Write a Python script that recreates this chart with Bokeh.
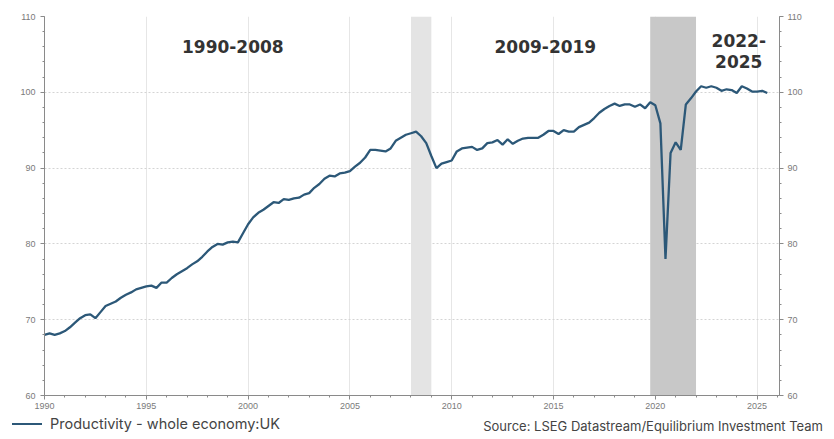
from bokeh.plotting import figure
from bokeh.layouts import column
from bokeh.models import (Range1d, LinearAxis, SingleIntervalTicker, BoxAnnotation,
                          Label, Div)
from bokeh.embed import file_html
from bokeh.resources import INLINE

# ---------------- data ----------------
start_year = 1990
# UK whole-economy productivity, quarterly from 1990 Q1
productivity = [
    68.0, 68.2, 68.0, 68.2,    # 1990
    68.5, 69.0, 69.6, 70.2,    # 1991
    70.6, 70.7, 70.2, 71.0,    # 1992
    71.8, 72.1, 72.4, 72.9,    # 1993
    73.3, 73.6, 74.0, 74.2,    # 1994
    74.4, 74.5, 74.2, 74.9,    # 1995
    74.9, 75.5, 76.0, 76.4,    # 1996
    76.8, 77.3, 77.7, 78.3,    # 1997
    79.0, 79.6, 80.0, 79.9,    # 1998
    80.2, 80.3, 80.2, 81.4,    # 1999
    82.6, 83.5, 84.1, 84.5,    # 2000
    85.0, 85.5, 85.4, 85.9,    # 2001
    85.8, 86.0, 86.1, 86.5,    # 2002
    86.7, 87.4, 87.9, 88.6,    # 2003
    89.0, 88.9, 89.3, 89.4,    # 2004
    89.6, 90.2, 90.7, 91.4,    # 2005
    92.4, 92.4, 92.3, 92.2,    # 2006
    92.6, 93.6, 94.0, 94.4,    # 2007
    94.6, 94.8, 94.2, 93.3,    # 2008
    91.6, 90.0, 90.6, 90.8,    # 2009
    91.0, 92.2, 92.6, 92.7,    # 2010
    92.8, 92.4, 92.6, 93.3,    # 2011
    93.4, 93.7, 93.1, 93.8,    # 2012
    93.2, 93.6, 93.9, 94.0,    # 2013
    94.0, 94.0, 94.4, 94.9,    # 2014
    94.9, 94.5, 95.0, 94.8,    # 2015
    94.8, 95.4, 95.7, 96.0,    # 2016
    96.6, 97.3, 97.8, 98.2,    # 2017
    98.5, 98.2, 98.4, 98.4,    # 2018
    98.1, 98.4, 97.9, 98.7,    # 2019
    98.3, 95.9, 78.0, 92.0,    # 2020
    93.4, 92.4, 98.4, 99.2,    # 2021
    100.1, 100.8, 100.6, 100.8,  # 2022
    100.6, 100.2, 100.4, 100.3,  # 2023
    99.9, 100.8, 100.5, 100.1,   # 2024
    100.1, 100.2, 99.9,          # 2025
]
dates = [start_year + i / 4 for i in range(len(productivity))]

shade_periods = [(2008.0, 2009.0), (2019.75, 2022.0)]
shade_colors = ["#e4e4e4", "#c8c8c8"]

period_labels = ["1990-2008", "2009-2019", "2022-", "2025"]
period_label_x = [1999.25, 2014.6, 2024.1, 2024.1]
period_label_y = [106.0, 106.0, 106.8, 104.0]

series_name = "Productivity - whole economy:UK"
source_text = "Source: LSEG Datastream/Equilibrium Investment Team"

x_start, x_end = 1990, 2026.1
y_start, y_end = 60, 110

LINE_COLOR = "#2c5878"
TEXT_COLOR = "#444444"

# ---------------- main chart ----------------
p = figure(width=834, height=415, output_backend="svg", toolbar_location=None,
           x_range=Range1d(x_start, x_end), y_range=Range1d(y_start, y_end),
           min_border_left=44, min_border_right=55, min_border_top=16,
           min_border_bottom=20, background_fill_color="white",
           border_fill_color="white")
p.outline_line_color = None

tick_font = "Liberation Sans"
axis_col = "#8a8a8a"
label_col = "#7a7a7a"

def style_axis(ax):
    ax.axis_line_color = axis_col
    ax.major_tick_line_color = axis_col
    ax.minor_tick_line_color = axis_col
    ax.major_tick_out = 4
    ax.major_tick_in = 0
    ax.minor_tick_out = 2
    ax.minor_tick_in = 0
    ax.major_label_text_font = tick_font
    ax.major_label_text_font_size = "9px"
    ax.major_label_text_color = label_col

p.xaxis.ticker = SingleIntervalTicker(interval=5, num_minor_ticks=5)
p.yaxis.ticker = SingleIntervalTicker(interval=10, num_minor_ticks=5)
for ax in p.xaxis:
    style_axis(ax)
    ax.major_label_standoff = 3
for ax in p.yaxis:
    style_axis(ax)
    ax.major_label_standoff = 5

right_axis = LinearAxis(ticker=SingleIntervalTicker(interval=10, num_minor_ticks=5))
style_axis(right_axis)
right_axis.major_label_standoff = 4
p.add_layout(right_axis, "right")

p.xgrid.ticker = SingleIntervalTicker(interval=5)
p.xgrid.grid_line_color = "#e6e6e6"
p.ygrid.grid_line_color = "#d4d4d4"
p.ygrid.grid_line_dash = "2 2"

for (a, b), c in zip(shade_periods, shade_colors):
    p.add_layout(BoxAnnotation(left=a, right=b, fill_color=c, fill_alpha=1.0,
                               line_color=None, level="underlay"))

line_r = p.line(dates, productivity, line_color=LINE_COLOR, line_width=2.3)

for t, x, y in zip(period_labels, period_label_x, period_label_y):
    p.add_layout(Label(x=x, y=y, text=t, text_align="center", text_baseline="middle",
                       text_font="DejaVu Sans", text_font_style="bold",
                       text_font_size="17px", text_color="#333333"))

# ---------------- footer: legend key + source ----------------
footer_html = (
    f'<div style="position:relative;width:834px;height:24px;font-family:Inter;'
    f'color:{TEXT_COLOR};">'
    f'<span style="position:absolute;left:12px;top:8px;width:30px;height:0;'
    f'border-top:2.5px solid {LINE_COLOR};"></span>'
    f'<span style="position:absolute;left:50px;top:0px;line-height:18px;font-size:14.5px;'
    f'white-space:nowrap;">{series_name}</span>'
    f'<span style="position:absolute;right:11px;top:2px;line-height:18px;font-size:13px;'
    f'white-space:nowrap;">{source_text}</span>'
    f'</div>'
)
footer = Div(text=footer_html, width=834, height=24, margin=0)

layout = column(p, footer, spacing=0)
open("out.html", "w").write(file_html(layout, INLINE))
